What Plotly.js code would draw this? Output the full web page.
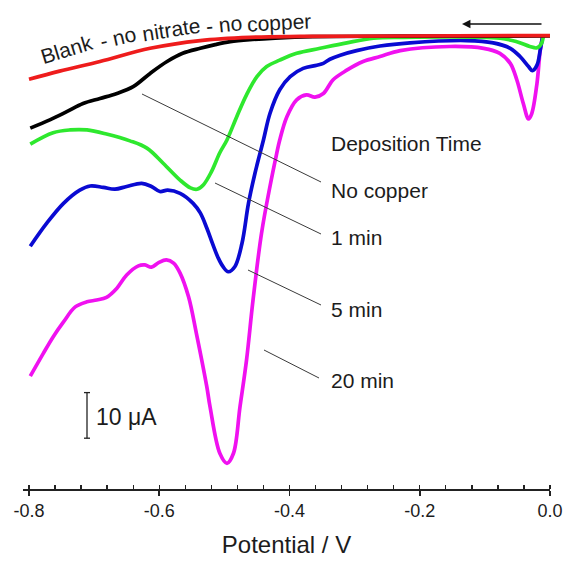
<!DOCTYPE html>
<html><head><meta charset="utf-8">
<script src="https://cdn.plot.ly/plotly-3.0.1.min.js"></script>
<style>html,body{margin:0;padding:0;background:#fff}#chart{width:563px;height:565px}</style>
</head><body><div id="chart"></div>
<script>
// Potential (V) and current (µA, arbitrary offset)
const blankV = [-0.800,-0.753,-0.691,-0.614,-0.537,-0.461,-0.384,-0.230,0.000];
const blankI = [-9.5,-7.7,-5.6,-2.7,-1.0,-0.3,-0.1,0.0,0.1];

const noCuV = [-0.798,-0.768,-0.742,-0.717,-0.691,-0.665,-0.640,-0.614,-0.588,-0.564,-0.537,-0.514,-0.491,-0.461,-0.422,-0.364,-0.230,0.000];
const noCuI = [-20.2,-18.4,-16.6,-14.8,-13.7,-12.6,-11.1,-8.2,-5.6,-3.8,-2.7,-1.9,-1.25,-0.8,-0.45,-0.15,-0.05,0];

const min1V = [-0.798,-0.763,-0.737,-0.711,-0.681,-0.645,-0.619,-0.594,-0.568,-0.552,-0.542,-0.532,-0.520,-0.507,-0.496,-0.481,-0.466,-0.450,-0.435,-0.415,-0.389,-0.353,-0.312,-0.271,-0.230,-0.077,-0.051,-0.031,-0.020,-0.013,-0.010];
const min1I = [-23.7,-21.2,-20.6,-20.6,-21.5,-23.0,-24.6,-27.9,-31.6,-33.3,-33.6,-32.6,-29.8,-25.6,-22.8,-17.7,-12.9,-8.9,-6.7,-5.3,-3.8,-2.7,-1.5,-0.5,-0.3,-0.5,-1.25,-2.3,-2.6,-1.6,0.2];

const min5V = [-0.798,-0.773,-0.747,-0.722,-0.706,-0.686,-0.668,-0.650,-0.627,-0.612,-0.599,-0.587,-0.568,-0.548,-0.537,-0.527,-0.518,-0.510,-0.502,-0.494,-0.484,-0.473,-0.463,-0.453,-0.440,-0.430,-0.415,-0.399,-0.379,-0.358,-0.348,-0.338,-0.322,-0.297,-0.261,-0.215,-0.128,-0.087,-0.061,-0.046,-0.033,-0.027,-0.020,-0.015,-0.011];
const min5I = [-46.1,-41.1,-36.7,-33.8,-32.9,-33.2,-33.6,-33.0,-32.3,-33.0,-34.1,-33.8,-34.5,-36.7,-38.8,-42.1,-45.6,-48.5,-50.6,-51.7,-50.6,-45.5,-36.7,-30.1,-22.8,-17.0,-11.8,-8.9,-7.1,-6.4,-6.0,-5.1,-4.2,-3.2,-2.2,-1.5,-1.0,-1.5,-2.7,-4.5,-6.7,-7.6,-6.4,-3.1,0.2];

const min20V = [-0.798,-0.778,-0.763,-0.747,-0.729,-0.711,-0.696,-0.681,-0.665,-0.650,-0.632,-0.622,-0.612,-0.601,-0.589,-0.578,-0.568,-0.555,-0.543,-0.527,-0.522,-0.507,-0.496,-0.486,-0.476,-0.466,-0.456,-0.443,-0.430,-0.420,-0.415,-0.404,-0.389,-0.374,-0.361,-0.348,-0.333,-0.312,-0.287,-0.261,-0.230,-0.154,-0.102,-0.077,-0.061,-0.051,-0.041,-0.033,-0.028,-0.020,-0.015,-0.011];
const min20I = [-74.6,-69.6,-66.0,-62.7,-59.4,-58.3,-57.9,-57.3,-55.3,-52.4,-50.4,-50.2,-50.7,-49.7,-49.1,-49.8,-52.0,-57.2,-65.2,-76.9,-81.3,-91.5,-93.7,-91.5,-81.3,-71.1,-57.9,-43.3,-33.0,-26.0,-22.8,-17.7,-14.0,-12.9,-13.4,-12.6,-9.6,-7.5,-5.6,-4.5,-3.2,-2.3,-2.7,-3.8,-6.0,-9.6,-14.8,-18.2,-17.0,-10.4,-3.1,0.2];

const tickVals = [-0.8,-0.6,-0.4,-0.2,0.0];
const tickText = ['-0.8','-0.6','-0.4','-0.2','0.0'];
const curveLabels = ['Deposition Time','No copper','1 min','5 min','20 min'];
const blankWords = ['Blank','- no','nitrate','- no','copper'];
const scaleBarBottom = -88.2;   // µA
const scaleBarLength = 10;      // µA
const scaleBarText = '10 μA';

const FONT = 'Liberation Sans, Arial, sans-serif';
const W = 563, H = 565;
const M = {l:23, r:13, t:10, b:76};
const pw = W - M.l - M.r, ph = H - M.t - M.b;
const px = x => (x - M.l) / pw;
const py = y => (H - M.b - y) / ph;

function tr(x, y, color){
  return {x:x, y:y, type:'scatter', mode:'lines',
    line:{color:color, width:3.7, shape:'spline', smoothing:1.0},
    hoverinfo:'skip', showlegend:false};
}
const data = [
  tr(min20V, min20I, '#f011f0'),
  tr(min5V, min5I, '#0a0ad2'),
  tr(min1V, min1I, '#2ee82e'),
  tr(noCuV, noCuI, '#000000'),
  tr(blankV, blankI, '#ee1c1c')
];

const txtColor = '#1c1c1c';
const annotations = [];
// curved blank label, word by word
const blankPos = [[66,49,-17],[118,38,-13],[171,29,-9],[224,25,-6],[279,22,-3]];
blankWords.forEach((w,i)=>{
  annotations.push({text:w, x:px(blankPos[i][0]), y:py(blankPos[i][1]), xref:'paper', yref:'paper',
    xanchor:'center', yanchor:'middle', textangle:blankPos[i][2], showarrow:false,
    font:{family:FONT, size:21, color:txtColor}});
});
const labelY = [143, 190, 238, 309, 380];
curveLabels.forEach((t,i)=>{
  annotations.push({text:t, x:px(329), y:py(labelY[i]), xref:'paper', yref:'paper',
    xanchor:'left', yanchor:'middle', showarrow:false, font:{family:FONT, size:21, color:txtColor}});
});
annotations.push({text:scaleBarText, x:px(94), y:py(417), xref:'paper', yref:'paper',
  xanchor:'left', yanchor:'middle', showarrow:false, font:{family:FONT, size:23, color:txtColor}});
// sweep direction arrow
annotations.push({text:'', x:px(462), y:py(24), xref:'paper', yref:'paper', showarrow:true,
  ax:81, ay:0, arrowhead:2, arrowsize:1.3, arrowwidth:1.3, arrowcolor:'#111', standoff:0});

const lc = {color:'#3a3a3a', width:1};
function seg(x0,y0,x1,y1){ return {type:'line', xref:'paper', yref:'paper', x0:px(x0), y0:py(y0), x1:px(x1), y1:py(y1), line:lc}; }
const shapes = [
  seg(142,94,321,182),
  seg(215,183,321,234),
  seg(248,270,321,305),
  seg(264,350,319,378),
  {type:'line', xref:'paper', yref:'y', x0:px(87), x1:px(87), y0:scaleBarBottom, y1:scaleBarBottom+scaleBarLength, line:{color:'#222', width:1.3}},
  {type:'line', xref:'paper', yref:'y', x0:px(84), x1:px(90), y0:scaleBarBottom, y1:scaleBarBottom, line:{color:'#222', width:1.3}},
  {type:'line', xref:'paper', yref:'y', x0:px(84), x1:px(90), y0:scaleBarBottom+scaleBarLength, y1:scaleBarBottom+scaleBarLength, line:{color:'#222', width:1.3}}
];

const layout = {
  width:W, height:H, margin:M, paper_bgcolor:'#fff', plot_bgcolor:'#fff', showlegend:false,
  font:{family:FONT, color:txtColor},
  xaxis:{range:[-0.8092,0], tickmode:'array', tickvals:tickVals, ticktext:tickText,
    ticks:'outside', ticklen:5, tickwidth:1.5, tickcolor:'#222',
    showline:true, linecolor:'#222', linewidth:1.6, showgrid:false, zeroline:false,
    tickfont:{family:FONT, size:18, color:txtColor},
    title:{text:'Potential / V', font:{family:FONT, size:24, color:txtColor}, standoff:16},
    minor:{tickmode:'linear', tick0:-0.8, dtick:0.04, ticks:'inside', ticklen:4, tickwidth:1.3, tickcolor:'#222', showgrid:false},
    fixedrange:true},
  yaxis:{range:[-99.34,5.70], visible:false, showgrid:false, zeroline:false, fixedrange:true},
  annotations:annotations, shapes:shapes, hovermode:false
};
Plotly.newPlot('chart', data, layout, {displayModeBar:false, staticPlot:true});
</script>
</body></html>
